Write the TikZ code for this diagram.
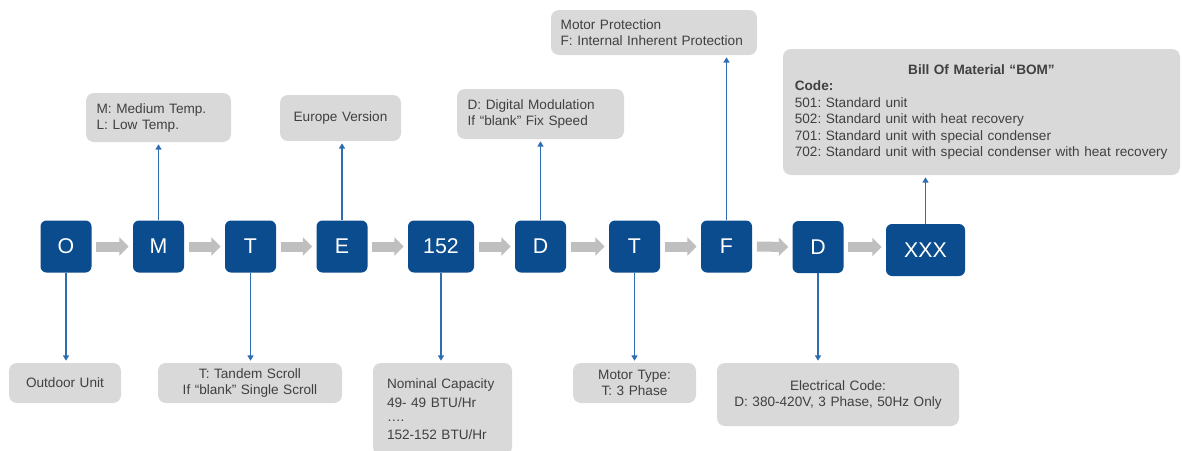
\documentclass[tikz,border=0pt]{standalone}
\usepackage{fontspec}
\setmainfont{Liberation Sans}
\usepackage{tikz}
\usetikzlibrary{arrows.meta}
\definecolor{codeblue}{HTML}{0A4C8E}
\definecolor{infogrey}{HTML}{D9D9D9}
\definecolor{infotext}{HTML}{404040}
\definecolor{linkblue}{HTML}{2F6DB0}
\definecolor{flowgrey}{HTML}{BFBFBF}
\tikzstyle{code_box}=[rounded corners=4.5pt, fill=codeblue, text=white,
    minimum width=38.25pt, minimum height=39pt, inner sep=0pt,
    font=\fontsize{16}{18}\selectfont]
\tikzstyle{info_box}=[rounded corners=6pt, fill=infogrey, text=infotext,
    inner xsep=8pt, inner ysep=0pt, font=\fontsize{10.2}{12}\selectfont]
\tikzstyle{flow_arrow}=[draw=flowgrey, line width=7.5pt,
    -{Triangle[length=7pt,width=13.5pt]}, shorten <=3.5pt, shorten >=3pt]
\tikzstyle{info_link}=[draw=linkblue, line width=1.1pt,
    -{Triangle[length=4pt,width=4.5pt]}]
\frenchspacing

\begin{document}
\begin{tikzpicture}[x=0.75pt, y=-0.75pt]
\useasboundingbox (0,0) rectangle (1182,450);
\clip (0,0) rectangle (1182,450);
\node[code_box] (cid0) at (66,246.5){O};
\node[code_box] (cid1) at (158.5,246.5){M};
\node[code_box] (cid2) at (250.5,246.5){T};
\node[code_box] (cid3) at (342,246.5){E};
\node[code_box, minimum width=49.5pt] (cid4) at (441,246.5){152};
\node[code_box] (cid5) at (540.5,246.5){D};
\node[code_box] (cid6) at (634.5,246.5){T};
\node[code_box] (cid7) at (726.5,246.5){F};
\node[code_box] (cid8) at (818,247){D};
\node[code_box, minimum width=59.25pt] (cid9) at (925.5,250){XXX};
\draw[flow_arrow](cid0) -- (cid1);
\draw[flow_arrow](cid1) -- (cid2);
\draw[flow_arrow](cid2) -- (cid3);
\draw[flow_arrow](cid3) -- (cid4);
\draw[flow_arrow](cid4) -- (cid5);
\draw[flow_arrow](cid5) -- (cid6);
\draw[flow_arrow](cid6) -- (cid7);
\draw[flow_arrow](cid7) -- (cid8);
\draw[flow_arrow](cid8) -- (cid8 -| cid9.west);
% below the codes
\node[info_box, text width=68pt, align=center, minimum height=30pt] (info0) at (65,383){Outdoor Unit};
\node[info_box, text width=122pt, align=center, minimum height=30pt] (info2) at (250,383){T: Tandem Scroll\\If “blank” Single Scroll};
\node[info_box, inner xsep=10.5pt, text width=83.25pt, align=left, minimum height=69pt] (info4) at (442.5,409){Nominal Capacity\\[2.2pt]49- 49 BTU/Hr\\[-1pt]….\\[1.2pt]152-152 BTU/Hr};
\node[info_box, text width=76.25pt, align=center, minimum height=30pt] (info6) at (634.5,383){Motor Type:\\T: 3 Phase};
\node[info_box, text width=165.5pt, align=center, minimum height=47.25pt] (info8) at (838,394.5){Electrical Code:\\D: 380-420V, 3 Phase, 50Hz Only};
% above the codes
\node[info_box, text width=92.75pt, align=left, minimum height=36.75pt] (info1) at (158.5,117.5){M: Medium Temp.\\L: Low Temp.};
\node[info_box, text width=74.75pt, align=center, minimum height=34.5pt] (info3) at (340.5,118){Europe Version};
\node[info_box, text width=109.25pt, align=left, minimum height=37.5pt] (info5) at (540.5,114){D: Digital Modulation\\If “blank” Fix Speed};
\node[info_box, inner xsep=7.25pt, text width=140pt, align=left, minimum height=33.75pt] (info7) at (654,32.5){Motor Protection\\F: Internal Inherent Protection};
\node[info_box, inner xsep=8.875pt, text width=280pt, align=left, minimum height=94.5pt,
    font=\fontsize{10.2}{12.4}\selectfont] (info9) at (981.5,112){\hfill\textbf{Bill Of Material “BOM”}\hfill\null\\\textbf{Code:}\\501: Standard unit\\502: Standard unit with heat recovery\\701: Standard unit with special condenser\\702: Standard unit with special condenser with heat recovery};
\draw[info_link](cid0.south) -- ([yshift=1.5pt]cid0.south |- info0.north);
\draw[info_link](cid2.south) -- ([yshift=1.5pt]cid2.south |- info2.north);
\draw[info_link](cid4.south) -- ([yshift=1.5pt]cid4.south |- info4.north);
\draw[info_link](cid6.south) -- ([yshift=1.5pt]cid6.south |- info6.north);
\draw[info_link](cid8.south) -- ([yshift=1.5pt]cid8.south |- info8.north);
\draw[info_link](cid1.north) -- ([yshift=-1.5pt]cid1.north |- info1.south);
\draw[info_link](cid3.north) -- ([yshift=-1.5pt]cid3.north |- info3.south);
\draw[info_link](cid5.north) -- ([yshift=-1.5pt]cid5.north |- info5.south);
\draw[info_link](cid7.north) -- ([yshift=-1.5pt]cid7.north |- info7.south);
\draw[info_link](cid9.north) -- ([yshift=-1.5pt]cid9.north |- info9.south);
\end{tikzpicture}
\end{document}
